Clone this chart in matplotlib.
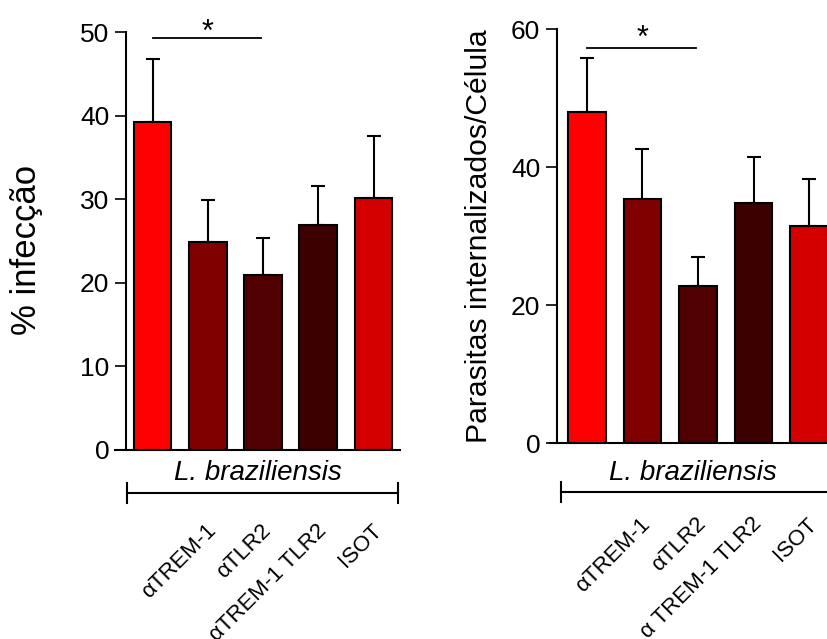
import numpy as np
import matplotlib.pyplot as plt
from matplotlib.transforms import ScaledTranslation

plt.rcParams['font.family'] = ['Liberation Sans', 'DejaVu Sans']

# bar order: L. braziliensis alone, then the four antibody treatments
labels = ['', 'αTREM-1', 'αTLR2', 'αTREM-1 TLR2', 'ISOT']
labels_b = ['', 'αTREM-1', 'αTLR2', 'α TREM-1 TLR2', 'ISOT']
colors = ['#ff0000', '#800000', '#500000', '#3c0000', '#d40000']

infec_mean = [39.3, 24.9, 20.9, 26.9, 30.1]
infec_err = [7.5, 5.0, 4.5, 4.7, 7.5]

paras_mean = [48.0, 35.4, 22.8, 34.8, 31.5]
paras_err = [7.8, 7.2, 4.2, 6.6, 6.8]

x = np.arange(len(labels))

fig = plt.figure(figsize=(8.27, 6.39), dpi=100)
ax1 = fig.add_axes([0.1391, 0.2958, 0.3446, 0.654])
ax2 = fig.add_axes([0.665, 0.3063, 0.375, 0.6483])


def draw_panel(ax, mean, err, ymax, yticks, ylabel, tick_names, sig_y, star_y,
               x0, x1, spine_x, brk_y, brk_h, txt_y, label_xy, label_size):
    ax.bar(x, mean, width=0.68, color=colors, edgecolor='black', linewidth=1.5,
           zorder=2)
    ax.errorbar(x, mean, yerr=[np.zeros(len(err)), err], fmt='none',
                ecolor='black', elinewidth=1.5, capsize=5, capthick=1.5,
                zorder=1)
    ax.set_xlim(x0, x1)
    ax.set_ylim(0, ymax)
    ax.set_yticks(yticks)
    for s in ['top', 'right']:
        ax.spines[s].set_visible(False)
    ax.spines['left'].set_position(('data', spine_x))
    ax.spines['left'].set_linewidth(1.5)
    ax.spines['bottom'].set_linewidth(1.5)
    ax.tick_params(axis='y', length=8, width=1.2, labelsize=19, pad=4)
    ax.tick_params(axis='x', length=0, labelsize=16, pad=56)
    ax.set_xticks(x, tick_names, rotation=45, ha='right', va='center',
                  rotation_mode='anchor')
    # nudge the slanted names so they end under the bar centres
    shift = ScaledTranslation(0.05, 0, fig.dpi_scale_trans)
    for lbl in ax.get_xticklabels():
        lbl.set_transform(lbl.get_transform() + shift)
    ax.set_ylabel(ylabel, fontsize=label_size, va='center')
    ax.yaxis.set_label_coords(*label_xy)

    # significance bar between control and alpha-TLR2
    ax.plot([0, 1.97], [sig_y, sig_y], color='black', lw=1.3, clip_on=False)
    ax.text(1.0, star_y, '*', ha='center', va='center', fontsize=22,
            clip_on=False)

    # bracket grouping all L. braziliensis conditions
    ax.plot([-0.47, 4.45], [brk_y, brk_y], color='black', lw=1.5,
            clip_on=False)
    for bx in [-0.47, 4.45]:
        ax.plot([bx, bx], [brk_y - brk_h, brk_y + brk_h], color='black',
                lw=1.5, clip_on=False)
    ax.text(1.9, txt_y, 'L. braziliensis', style='italic', fontsize=20,
            ha='center', va='center', clip_on=False)


draw_panel(ax1, infec_mean, infec_err, 50, [0, 10, 20, 30, 40, 50],
           '% infecção', labels, 49.3, 49.9, -0.679, 4.48, -0.48,
           -5.14, 1.2, -2.75, (-0.309, 0.478), 25)
draw_panel(ax2, paras_mean, paras_err, 60, [0, 20, 40, 60],
           'Parasitas internalizados/Célula', labels_b, 57.3, 58.5,
           -0.667, 4.92, -0.54, -7.06, 1.45, -4.3, (-0.229, 0.501), 21.7)

fig.savefig('out.png', dpi=100)
